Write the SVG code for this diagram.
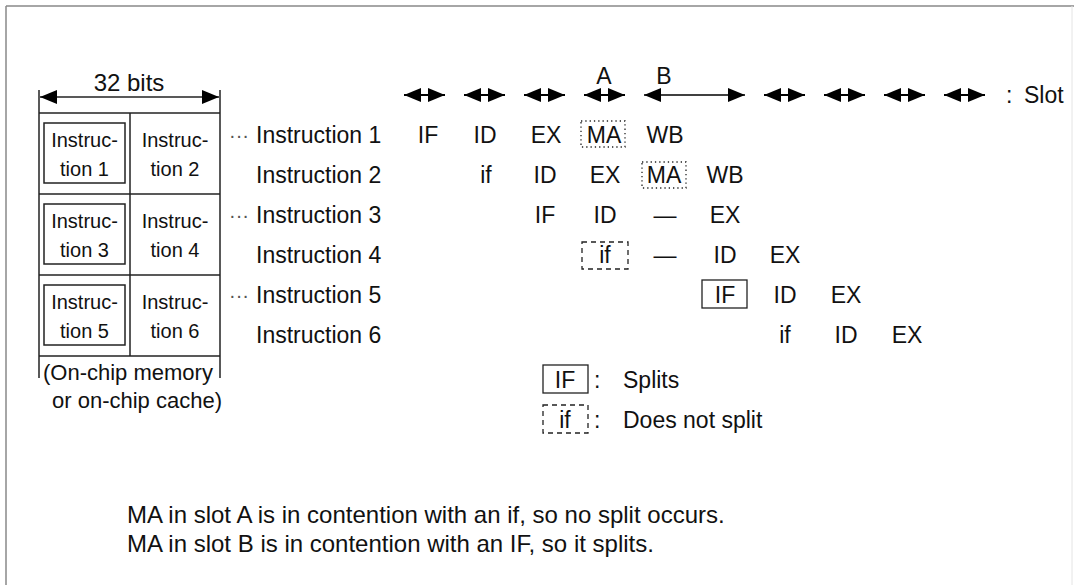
<svg xmlns="http://www.w3.org/2000/svg" width="1074" height="585" viewBox="0 0 1074 585">
<style>
  text { font-family: "Liberation Sans", Arial, sans-serif; fill: #111; }
  .lbl { font-size: 23px; }
  .cell { font-size: 20px; text-anchor: middle; }
  .st { font-size: 23px; text-anchor: middle; }
  .note { font-size: 24px; }
  .dots { font-size: 20px; fill: #555; }
  .ln { stroke: #222; stroke-width: 1.5; fill: none; }
  .arr { stroke: #000; stroke-width: 2; marker-start: url(#ah); marker-end: url(#ah); }
  .dotted { fill: none; stroke: #222; stroke-width: 1.3; stroke-dasharray: 1.3 3; }
  .dashed { fill: none; stroke: #222; stroke-width: 1.3; stroke-dasharray: 5 4; }
  .solid { fill: none; stroke: #222; stroke-width: 1.3; }
</style>
<defs>
  <marker id="ah" markerUnits="userSpaceOnUse" viewBox="0 0 17 14" markerWidth="17" markerHeight="14" refX="17" refY="7" orient="auto-start-reverse">
    <path d="M0,0 L17,7 L0,14 z" fill="#000"/>
  </marker>
</defs>
<rect width="1074" height="585" fill="#fff"/>
<g id="frame">
  <line x1="6" y1="6" x2="1074" y2="6" stroke="#888" stroke-width="1.5"/>
  <line x1="6" y1="6" x2="6" y2="585" stroke="#888" stroke-width="1.5"/>
  <line x1="1072" y1="6" x2="1072" y2="585" stroke="#e4e4e4" stroke-width="1"/>
</g>
<g id="memory">
  <text class="lbl" x="129" y="91" text-anchor="middle" style="font-size:24px">32 bits</text>
  <line class="ln" x1="39" y1="90" x2="39" y2="378"/>
  <line class="ln" x1="220" y1="90" x2="220" y2="378"/>
  <line class="ln" x1="39" y1="113" x2="220" y2="113"/>
  <line class="ln" x1="39" y1="194" x2="220" y2="194"/>
  <line class="ln" x1="39" y1="275" x2="220" y2="275"/>
  <line class="ln" x1="39" y1="356" x2="220" y2="356"/>
  <line class="ln" x1="130" y1="113" x2="130" y2="356"/>
  <rect class="ln" x="44" y="123" width="81" height="60"/>
  <rect class="ln" x="44" y="204" width="81" height="60"/>
  <rect class="ln" x="44" y="285" width="81" height="60"/>
  <text class="cell" x="84.5" y="147">Instruc-</text>
  <text class="cell" x="84.5" y="176">tion 1</text>
  <text class="cell" x="175" y="147">Instruc-</text>
  <text class="cell" x="175" y="176">tion 2</text>
  <text class="cell" x="84.5" y="228">Instruc-</text>
  <text class="cell" x="84.5" y="257">tion 3</text>
  <text class="cell" x="175" y="228">Instruc-</text>
  <text class="cell" x="175" y="257">tion 4</text>
  <text class="cell" x="84.5" y="309">Instruc-</text>
  <text class="cell" x="84.5" y="338">tion 5</text>
  <text class="cell" x="175" y="309">Instruc-</text>
  <text class="cell" x="175" y="338">tion 6</text>
  <text class="lbl" x="43" y="380" style="font-size:22px">(On-chip memory</text>
  <text class="lbl" x="52" y="408" style="font-size:22px">or on-chip cache)</text>
</g>
<g id="connectors">
  <line class="ln" x1="40" y1="97" x2="219" y2="97" style="marker-start:url(#ah);marker-end:url(#ah)"/>
  <line class="arr" x1="404" y1="95" x2="445" y2="95"/>
  <line class="arr" x1="464" y1="95" x2="505" y2="95"/>
  <line class="arr" x1="524" y1="95" x2="565" y2="95"/>
  <line class="arr" x1="584" y1="95" x2="625" y2="95"/>
  <line class="arr" x1="644" y1="95" x2="745" y2="95" style="stroke-width:1.5"/>
  <line class="arr" x1="764" y1="95" x2="805" y2="95"/>
  <line class="arr" x1="824" y1="95" x2="865" y2="95"/>
  <line class="arr" x1="884" y1="95" x2="925" y2="95"/>
  <line class="arr" x1="944" y1="95" x2="985" y2="95"/>
</g>
<g id="slots">
  <text class="st" x="604" y="84">A</text>
  <text class="st" x="664" y="84">B</text>
  <text class="lbl" x="1006" y="103">:</text>
  <text class="lbl" x="1024" y="103">Slot</text>
</g>
<g id="instructions">
  <text class="dots" x="229" y="142">···</text>
  <text class="dots" x="229" y="222">···</text>
  <text class="dots" x="229" y="302">···</text>
  <text class="lbl" x="256" y="143">Instruction 1</text>
  <text class="lbl" x="256" y="183">Instruction 2</text>
  <text class="lbl" x="256" y="223">Instruction 3</text>
  <text class="lbl" x="256" y="263">Instruction 4</text>
  <text class="lbl" x="256" y="303">Instruction 5</text>
  <text class="lbl" x="256" y="343">Instruction 6</text>
</g>
<g id="pipeline">
  <text class="st" x="428" y="143">IF</text>
  <text class="st" x="485" y="143">ID</text>
  <text class="st" x="546" y="143">EX</text>
  <rect class="dotted" x="581" y="121" width="44" height="26"/>
  <text class="st" x="604" y="143">MA</text>
  <text class="st" x="665" y="143">WB</text>

  <text class="st" x="486" y="183">if</text>
  <text class="st" x="545" y="183">ID</text>
  <text class="st" x="605" y="183">EX</text>
  <rect class="dotted" x="642" y="162" width="44" height="26"/>
  <text class="st" x="664" y="183">MA</text>
  <text class="st" x="725" y="183">WB</text>

  <text class="st" x="545" y="223">IF</text>
  <text class="st" x="605" y="223">ID</text>
  <text class="st" x="665" y="223">—</text>
  <text class="st" x="725" y="223">EX</text>

  <rect class="dashed" x="582" y="242" width="46" height="27"/>
  <text class="st" x="605" y="263">if</text>
  <text class="st" x="665" y="263">—</text>
  <text class="st" x="725" y="263">ID</text>
  <text class="st" x="785" y="263">EX</text>

  <rect class="solid" x="702" y="280" width="45" height="28"/>
  <text class="st" x="725" y="303">IF</text>
  <text class="st" x="785" y="303">ID</text>
  <text class="st" x="846" y="303">EX</text>

  <text class="st" x="785" y="343">if</text>
  <text class="st" x="846" y="343">ID</text>
  <text class="st" x="907" y="343">EX</text>
</g>
<g id="legend">
  <rect class="solid" x="543" y="365" width="45" height="28"/>
  <text class="st" x="565" y="388">IF</text>
  <text class="lbl" x="594" y="388">:</text>
  <text class="lbl" x="623" y="388">Splits</text>
  <rect class="dashed" x="543" y="405" width="45" height="28"/>
  <text class="st" x="565" y="428">if</text>
  <text class="lbl" x="594" y="428">:</text>
  <text class="lbl" x="623" y="428">Does not split</text>
</g>
<g id="notes">
  <text class="note" x="127" y="523">MA in slot A is in contention with an if, so no split occurs.</text>
  <text class="note" x="127" y="552">MA in slot B is in contention with an IF, so it splits.</text>
</g>
</svg>
